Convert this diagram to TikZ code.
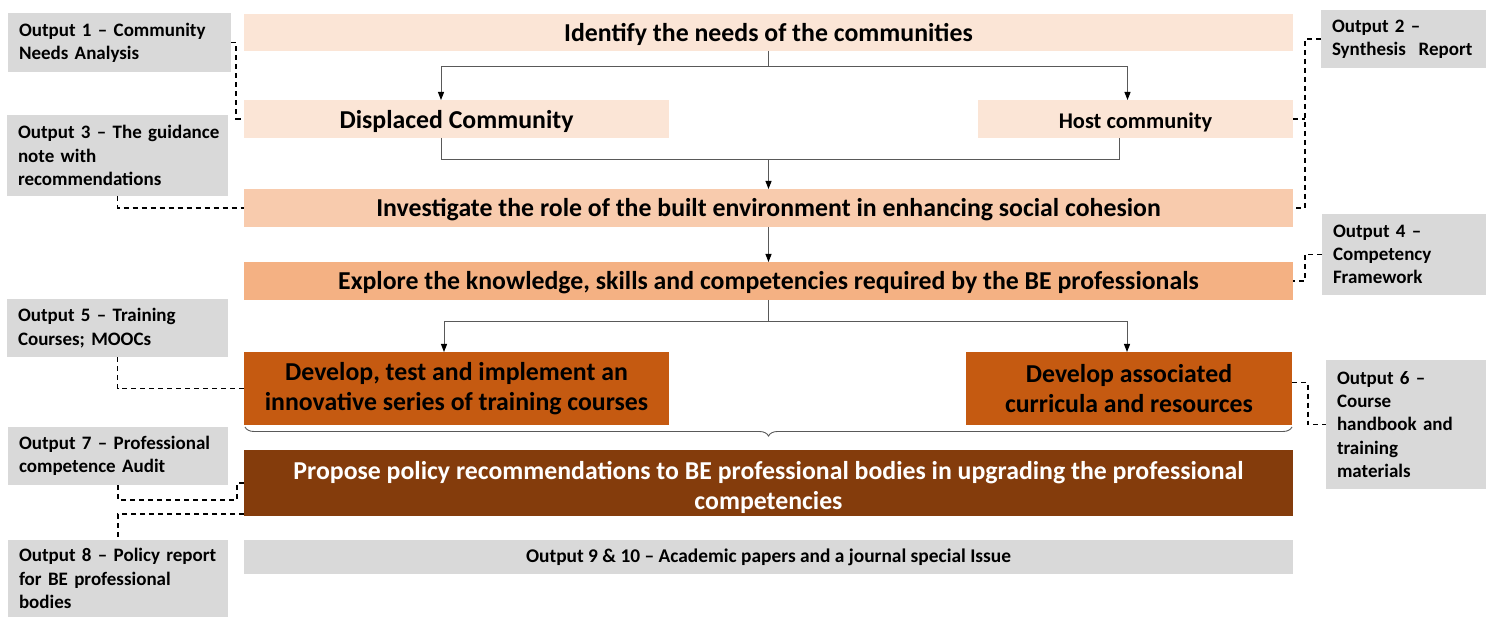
\documentclass[tikz,border=0pt]{standalone}
\usepackage{fontspec}
\setmainfont{Carlito}
\usetikzlibrary{arrows.meta,decorations.pathreplacing,calc}
\definecolor{peach1}{HTML}{FBE5D6}
\definecolor{peach2}{HTML}{F8CBAD}
\definecolor{peach3}{HTML}{F4B183}
\definecolor{rust}{HTML}{C55A11}
\definecolor{brownd}{HTML}{843C0C}
\definecolor{grayb}{HTML}{D9D9D9}
\definecolor{lineg}{HTML}{595959}
\tikzset{
  pbox/.style={anchor=north west, inner sep=0pt, outer sep=0pt, align=center, font=\bfseries\fontsize{25.8}{30}\selectfont},
  oneline/.style={text height=19pt, text depth=1.4pt},
  commline/.style={text height=21pt, text depth=1pt},
  obox/.style={anchor=north west, fill=grayb, inner xsep=11pt, inner ysep=0pt, outer sep=0pt, align=left, font=\bfseries\fontsize{19}{23.3}\selectfont},
  conn/.style={draw=lineg, line width=1pt},
  arr/.style={conn, arrows={-{Triangle[length=8pt,width=6pt,color=black]}}},
  dsh/.style={draw=black, line width=1.1pt, dash pattern=on 5pt off 4pt}
}
\begin{document}
\begin{tikzpicture}[x=1pt,y=-1pt]
\useasboundingbox (0,0) rectangle (1493,617);
% process boxes
\node[pbox, oneline, fill=peach1, minimum width=1049, minimum height=37] (t) at (244,14) {Identify the needs of the communities};
\node[pbox, commline, fill=peach1, minimum width=425, minimum height=38] (d) at (244,100) {Displaced Community};
\node[pbox, commline, fill=peach1, minimum width=315, minimum height=38, font=\bfseries\fontsize{22.4}{26}\selectfont] (h) at (978,100) {Host community};
\node[pbox, oneline, fill=peach2, minimum width=1049, minimum height=38] (inv) at (244,189) {Investigate the role of the built environment in enhancing social cohesion};
\node[pbox, oneline, fill=peach3, minimum width=1049, minimum height=38] (exp) at (244,262) {Explore the knowledge, skills and competencies required by the BE professionals};
\node[pbox, fill=rust, minimum width=425, minimum height=73] (d1) at (244,352) {Develop, test and implement an\\innovative series of training courses};
\node[pbox, fill=rust, minimum width=326, minimum height=73] (d2) at (966,352) {Develop associated\\curricula and resources};
\node[pbox, fill=brownd, text=white, minimum width=1049, minimum height=66] (pp) at (244,450) {\rule{0pt}{28pt}Propose policy recommendations to BE professional bodies in upgrading the professional\\competencies};
\node[pbox, fill=grayb, minimum width=1049, minimum height=34, font=\bfseries\fontsize{19.4}{22}\selectfont] (o9) at (244,540) {Output 9 \& 10 -- Academic papers and a journal special Issue};
% output boxes
\node[obox, text width=201, minimum height=59] (o1) at (8,13) {\mbox{Output 1 -- Community}\\\mbox{Needs Analysis}};
\node[obox, text width=143, minimum height=58] (o2) at (1321,10) {\mbox{Output 2 --}\\\mbox{Synthesis~~Report}};
\node[obox, text width=199, minimum height=81] (o3) at (7,115) {\mbox{Output 3 -- The guidance}\\\mbox{note with}\\\mbox{recommendations}};
\node[obox, text width=142, minimum height=81] (o4) at (1322,214) {\mbox{Output 4 --}\\\mbox{Competency}\\\mbox{Framework}};
\node[obox, text width=199, minimum height=58] (o5) at (7,299) {\mbox{Output 5 -- Training}\\\mbox{Courses; MOOCs}};
\node[obox, text width=138, minimum height=129] (o6) at (1326,360) {\mbox{Output 6 --}\\\mbox{Course}\\\mbox{handbook and}\\\mbox{training}\\\mbox{materials}};
\node[obox, text width=198, minimum height=58] (o7) at (8,427) {\mbox{Output 7 -- Professional}\\\mbox{competence Audit}};
\node[obox, text width=198, minimum height=77] (o8) at (8,540) {\mbox{Output 8 -- Policy report}\\\mbox{for BE professional}\\\mbox{bodies}};
% solid connectors
\draw[conn] (t.south) -- ++(0,16) coordinate (j1);
\draw[arr] (j1) -| ([xshift=-15.5pt]d.north);
\draw[arr] (j1) -| ([xshift=-8pt]h.north);
\draw[conn] ([xshift=-15.5pt]d.south) -- ++(0,22) coordinate (j2) -| ([xshift=-16pt]h.south);
\draw[arr] (j2 -| inv.north) -- (inv.north);
\draw[arr] (inv.south) -- (exp.north);
\draw[conn] (exp.south) -- ++(0,22) coordinate (j3);
\draw[arr] (j3) -| ([xshift=-12.5pt]d1.north);
\draw[arr] (j3) -| ([xshift=-2pt]d2.north);
\draw[lineg, line width=0.9pt, decorate, decoration={brace, mirror, amplitude=9pt}] ([xshift=1pt,yshift=-2pt]d1.south west) -- ([yshift=-2pt]d2.south east);
% dashed connectors
\draw[dsh] (o1.east) -- ++(5,0) |- (d.west);
\draw[dsh] (o3.south) |- (inv.west);
\draw[dsh] (o2.west) -- ++(-16,0) coordinate (c2) |- (inv.east);
\draw[dsh] (h.east) -- (h.east -| c2);
\draw[dsh] (o4.west) -- ++(-17,0) |- (exp.east);
\draw[dsh] (o5.south) |- (d1.west);
\draw[dsh] ([yshift=6pt]d2.east) -- ++(16,0) |- (o6.west);
\draw[dsh] (o7.south) -- ++(0,15) -| ([xshift=-7pt]pp.west) -- (pp.west);
\draw[dsh] ([yshift=-31pt]pp.west) -| (o8.north);
\end{tikzpicture}
\end{document}
